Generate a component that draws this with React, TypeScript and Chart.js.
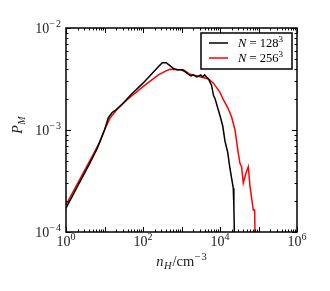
import React, { useEffect, useRef } from 'react';
import { Chart, registerables } from 'chart.js';

Chart.register(...registerables);

// ---- data ----
const blackX = [1, 2.0, 3.98, 6.3, 10, 12.6, 15.8, 20, 31.6, 50, 100, 158, 251, 316, 398, 501, 631, 794, 1000, 1259, 1585, 1778, 1995, 2512, 3162, 3548, 3981, 4467, 5012, 6026, 6761, 7413, 8511, 10000, 11749, 13490, 15849, 18197, 19953, 22131, 22909, 23714];
const blackY = [1.71e-4, 2.82e-4, 4.57e-4, 6.46e-4, 1.0e-3, 1.32e-3, 1.48e-3, 1.58e-3, 1.86e-3, 2.24e-3, 2.88e-3, 3.47e-3, 4.17e-3, 4.57e-3, 4.57e-3, 4.27e-3, 3.98e-3, 3.89e-3, 3.89e-3, 3.72e-3, 3.47e-3, 3.39e-3, 3.47e-3, 3.31e-3, 3.47e-3, 3.31e-3, 3.47e-3, 3.31e-3, 3.16e-3, 2.75e-3, 2.19e-3, 2.04e-3, 1.70e-3, 1.38e-3, 1.10e-3, 7.76e-4, 6.03e-4, 4.17e-4, 3.39e-4, 2.69e-4, 1.78e-4, 8.9e-5];
const redX = [1, 2.0, 3.98, 7.64, 10, 13.8, 20, 38, 100, 251, 398, 501, 794, 1122, 1585, 3020, 5012, 6761, 10000, 12303, 15849, 19953, 24547, 29854, 33113, 36308, 40272, 46774, 54325, 60256, 73282, 79433, 81283];
const redY = [1.84e-4, 3.0e-4, 4.85e-4, 7.7e-4, 1.0e-3, 1.30e-3, 1.55e-3, 1.97e-3, 2.66e-3, 3.47e-3, 3.80e-3, 3.94e-3, 3.89e-3, 3.89e-3, 3.55e-3, 3.33e-3, 3.16e-3, 2.88e-3, 2.34e-3, 1.97e-3, 1.66e-3, 1.35e-3, 1.0e-3, 5.89e-4, 4.68e-4, 4.37e-4, 3.02e-4, 3.72e-4, 4.37e-4, 2.78e-4, 1.64e-4, 1.64e-4, 8.9e-5];
const seriesNames = ['128', '256'];
const seriesColors = ['#000000', '#ff0000'];
const xTickExps = [0, 2, 4, 6];
const yTickExps = [-4, -3, -2];
const xLabel = { base: 'n', sub: 'H', unit: '/cm', sup: '\u22123' };
const yLabel = { base: 'P', sub: 'M' };

const FONT = '"Liberation Serif", "DejaVu Serif", serif';

type Seg = { t: string; size: number; italic?: boolean; dy?: number; pad?: number };

function drawRich(ctx: CanvasRenderingContext2D, segs: Seg[], x: number, y: number, align: 'left' | 'center' | 'right') {
  const widths = segs.map((s) => {
    ctx.font = `${s.italic ? 'italic ' : ''}${s.size}px ${FONT}`;
    return ctx.measureText(s.t).width + (s.pad || 0);
  });
  const total = widths.reduce((a, b) => a + b, 0);
  let cx = align === 'left' ? x : align === 'center' ? x - total / 2 : x - total;
  ctx.textAlign = 'left';
  ctx.textBaseline = 'alphabetic';
  segs.forEach((s, i) => {
    ctx.font = `${s.italic ? 'italic ' : ''}${s.size}px ${FONT}`;
    ctx.fillText(s.t, cx, y + (s.dy || 0));
    cx += widths[i];
  });
}

function expSegs(e: number, size: number, dy: number): Seg[] {
  if (e < 0) {
    return [
      { t: '\u2212', size: size, dy, pad: 1 },
      { t: String(Math.abs(e)), size, dy },
    ];
  }
  return [{ t: String(e), size, dy }];
}

const decorPlugin = {
  id: 'decor',
  afterDatasetsDraw(chart: any) {
    const ctx: CanvasRenderingContext2D = chart.ctx;
    const { left, right, top, bottom } = chart.chartArea;
    const xs = chart.scales.x;
    const ys = chart.scales.y;
    ctx.save();
    ctx.fillStyle = '#000';
    ctx.strokeStyle = '#000';

    // ticks (inward, all four sides)
    ctx.lineWidth = 1;
    ctx.beginPath();
    const xMinE = xTickExps[0], xMaxE = xTickExps[xTickExps.length - 1];
    for (let e = xMinE; e <= xMaxE; e++) {
      for (let m = 1; m <= 9; m++) {
        const v = m * Math.pow(10, e);
        if (v > Math.pow(10, xMaxE)) break;
        const px = Math.round(xs.getPixelForValue(v)) + 0.5;
        const len = m === 1 ? 5 : 2.5;
        ctx.moveTo(px, bottom); ctx.lineTo(px, bottom - len);
        ctx.moveTo(px, top); ctx.lineTo(px, top + len);
      }
    }
    const yMinE = yTickExps[0], yMaxE = yTickExps[yTickExps.length - 1];
    for (let e = yMinE; e <= yMaxE; e++) {
      for (let m = 1; m <= 9; m++) {
        const v = m * Math.pow(10, e);
        if (v > Math.pow(10, yMaxE) * 1.0001) break;
        const py = Math.round(ys.getPixelForValue(v)) + 0.5;
        const len = m === 1 ? 5 : 2.5;
        ctx.moveTo(left, py); ctx.lineTo(left + len, py);
        ctx.moveTo(right, py); ctx.lineTo(right - len, py);
      }
    }
    ctx.stroke();

    // frame
    ctx.lineWidth = 1.5;
    ctx.strokeRect(left, top, right - left, bottom - top);

    // tick labels
    ctx.fillStyle = '#222';
    xTickExps.forEach((e) => {
      const px = xs.getPixelForValue(Math.pow(10, e));
      drawRich(ctx, [{ t: '10', size: 14 }, ...expSegs(e, 10, -6)], px, bottom + 14, 'center');
    });
    yTickExps.forEach((e) => {
      const py = ys.getPixelForValue(Math.pow(10, e));
      drawRich(ctx, [{ t: '10', size: 14 }, ...expSegs(e, 10, -6)], left - 5, py + 4.5, 'right');
    });

    // axis titles
    drawRich(ctx, [
      { t: xLabel.base, size: 14.5, italic: true, pad: 0.5 },
      { t: xLabel.sub, size: 10.5, italic: true, dy: 3, pad: 1 },
      { t: xLabel.unit, size: 14.5, pad: 0.5 },
      { t: xLabel.sup.charAt(0), size: 10.5, dy: -6, pad: 1 },
      { t: xLabel.sup.slice(1), size: 10.5, dy: -6 },
    ], (left + right) / 2, bottom + 34, 'center');
    ctx.save();
    ctx.translate(left - 44, 125);
    ctx.rotate(-Math.PI / 2);
    drawRich(ctx, [
      { t: yLabel.base, size: 14, italic: true, pad: 0.5 },
      { t: yLabel.sub, size: 10, italic: true, dy: 3 },
    ], 0, 0, 'center');
    ctx.restore();

    // legend
    const lx = right - 96, ly = top + 5, lw = 91, lh = 36;
    ctx.fillStyle = '#fff';
    ctx.fillRect(lx, ly, lw, lh);
    ctx.lineWidth = 1.5;
    ctx.strokeStyle = '#000';
    ctx.strokeRect(lx, ly, lw, lh);
    seriesNames.forEach((n, i) => {
      const yy = ly + 10 + i * 15;
      ctx.strokeStyle = seriesColors[i];
      ctx.lineWidth = 1.5;
      ctx.beginPath();
      ctx.moveTo(lx + 8, yy);
      ctx.lineTo(lx + 27, yy);
      ctx.stroke();
      ctx.fillStyle = '#000';
      drawRich(ctx, [
        { t: 'N', size: 12.5, italic: true },
        { t: ' = ' + n, size: 12.5 },
        { t: '3', size: 9, dy: -5 },
      ], lx + 37, yy + 4, 'left');
    });
    ctx.restore();
  },
};

export default function App() {
  const ref = useRef<HTMLCanvasElement>(null);
  useEffect(() => {
    document.body.style.margin = '0';
    const canvas = ref.current!;
    const chart = new Chart(canvas, {
      type: 'line',
      data: {
        datasets: [
          {
            label: 'N = 128^3',
            data: blackX.map((x, i) => ({ x, y: blackY[i] })),
            borderColor: seriesColors[0],
            borderWidth: 1.5,
            pointRadius: 0,
            tension: 0,
            clip: 0,
          },
          {
            label: 'N = 256^3',
            data: redX.map((x, i) => ({ x, y: redY[i] })),
            borderColor: seriesColors[1],
            borderWidth: 1.5,
            pointRadius: 0,
            tension: 0,
            clip: 0,
          },
        ],
      },
      options: {
        responsive: false,
        animation: false,
        layout: { padding: { left: 66, right: 33, top: 28, bottom: 59 } },
        scales: {
          x: { type: 'logarithmic', min: 1, max: 1e6, display: false },
          y: { type: 'logarithmic', min: 1e-4, max: 1e-2, display: false },
        },
        plugins: { legend: { display: false }, tooltip: { enabled: false } },
      } as any,
      plugins: [decorPlugin],
    });
    return () => chart.destroy();
  }, []);
  return <canvas ref={ref} width={330} height={291} style={{ display: 'block' }} />;
}
